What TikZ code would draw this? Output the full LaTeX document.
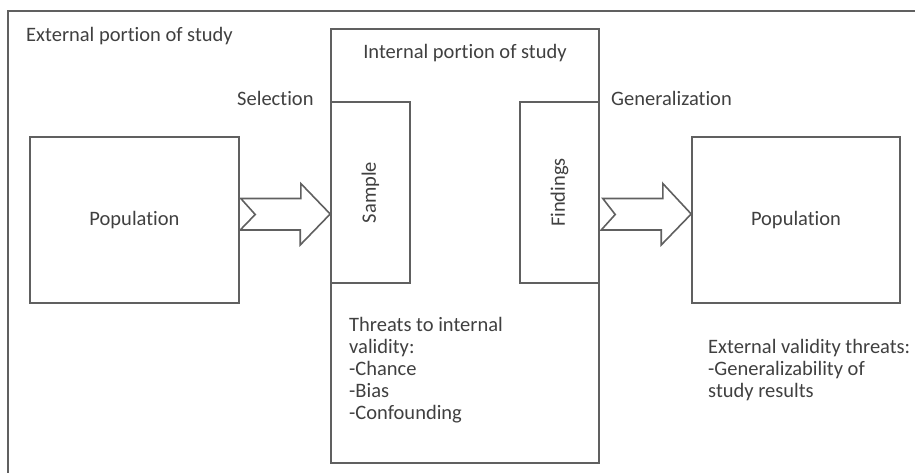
\documentclass[tikz,border=0pt]{standalone}
\usepackage{fontspec}
\setmainfont[Ligatures={NoCommon,NoRare}]{Carlito}
\usepackage{tikz}

\definecolor{linegray}{HTML}{606060}
\definecolor{textgray}{HTML}{404040}

\begin{document}
\begin{tikzpicture}[x=1pt,y=-1pt,
		box/.style={draw=linegray,line width=1.6pt,fill=white,minimum width=#1},
		lbl/.style={text=textgray,font=\fontsize{20.5}{22}\selectfont,inner sep=0pt},
		blockarr/.style={draw=linegray,line width=1.6pt,fill=white,line join=miter}]
		\useasboundingbox (0,0) rectangle (915,473);
		\begin{scope}
		\clip (0,0) rectangle (915,473);
		\draw[linegray,line width=1.6pt] (8,11) rectangle (940,500);
		\end{scope}
		\draw (465,246) 	node (intl) [box=268pt,minimum height=434pt] {};
		\draw (370.5,192.5) node (smp) [box=79pt,minimum height=181pt] {};
		\draw (559.5,192.5) node (fnd) [box=79pt,minimum height=181pt] {};
		\draw (134.5,220) 	node (popL) [box=209pt,minimum height=166pt] {};
		\draw (796,220) 		node (popR) [box=208pt,minimum height=166pt] {};
		% labels
		\draw (26,36) 	node (ext) [lbl,anchor=west] {External portion of study};
		\draw (465,53) 	node (int) [lbl] {Internal portion of study};
		\draw (237,98) 	node (sel) [lbl,anchor=west] {Selection};
		\draw (611,98) 	node (gen) [lbl,anchor=west] {Generalization};
		\draw (popL) 		node [lbl] {Population};
		\draw (popR) 		node [lbl] {Population};
		\draw (smp) 		node [lbl,rotate=90] {Sample};
		\draw (fnd) 		node [lbl,rotate=90] {Findings};
		\draw (349,317) node (thr) [lbl,anchor=north west,align=left] {Threats to internal\\validity:\\-Chance\\-Bias\\-Confounding};
		\draw (708,339) node (evt) [lbl,anchor=north west,align=left] {External validity threats:\\-Generalizability of\\study results};
		% block arrows
		\coordinate (a1) at ([xshift=1pt]popL.east |- 0,214);
		\coordinate (a2) at ([xshift=3pt]fnd.east |- 0,214);
		\draw[blockarr] (a1) ++(0,-15.5) -- ++(60,0) -- ++(0,-15) -- (smp.west |- a1) -- ++(-30,31) -- ++(0,-15) -- ++(-60,0) -- ++(15,-15.5) -- cycle;
		\draw[blockarr] (a2) ++(0,-15.5) -- ++(60,0) -- ++(0,-15) -- (popR.west |- a2) -- ++(-30,31) -- ++(0,-15) -- ++(-60,0) -- ++(14,-15.5) -- cycle;
	\end{tikzpicture}
\end{document}
